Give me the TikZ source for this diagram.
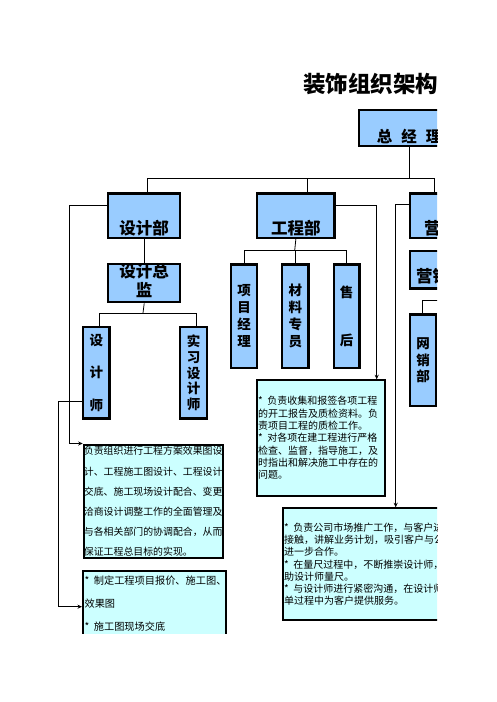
\documentclass[tikz,border=0pt]{standalone}
\usepackage{fontspec}
\setmainfont{Noto Sans CJK SC}
\usetikzlibrary{arrows.meta}
\definecolor{boxblue}{HTML}{99CCFF}
\definecolor{boxcyan}{HTML}{CCFFFF}
\newcommand{\mystar}{*\nobreak\hspace{0.45em}}
\tikzset{
  hbox/.style={draw=black, line width=2.4pt, fill=boxblue, inner sep=0pt, anchor=north west,
    font=\bfseries\fontsize{16.5}{19}\selectfont, align=center},
  vbox/.style={hbox, font=\bfseries\fontsize{13.5}{17}\selectfont},
  tbox/.style={draw=black, line width=1.8pt, fill=boxcyan, inner ysep=0pt, inner xsep=1.5pt,
    anchor=north west, align=left, font=\fontsize{10}{12.3}\selectfont},
  conn/.style={draw=black, line width=0.8pt},
  arr/.style={conn, -{Stealth[length=4.5pt,width=4pt]}},
}
\begin{document}
\begin{tikzpicture}[x=1pt,y=-1pt]
\useasboundingbox (0,0) rectangle (496,702);
\begin{scope}
\clip (0,0) rectangle (437,633);
\node[font=\bfseries\fontsize{22.5}{24}\selectfont, inner sep=0pt] (title) at (370.5,83.5) {装饰组织架构};

% top level
\node[hbox, minimum width=100, minimum height=36, text height=27.8pt, text depth=0pt,
  font=\bfseries\fontsize{15.5}{18}\selectfont] (zjl) at (358,109) {总\hspace{9pt}经\hspace{9pt}理};

% departments
\node[hbox, minimum width=72, minimum height=44.4, text height=37.6pt, text depth=0pt] (sjb) at (107,192.3) {设计部};
\node[hbox, minimum width=77.3, minimum height=44.4, text height=37.6pt, text depth=0pt] (gcb) at (256,192.3) {工程部};
\node[hbox, minimum width=77.5, minimum height=44.4, text height=37.6pt, text depth=0pt] (yxb) at (409,192.3) {营销部};
\node[hbox, minimum width=78, minimum height=37.3, text height=26.2pt, text depth=0pt] (yxjl) at (409,250) {营销经理};
\node[hbox, minimum width=72, minimum height=38, text height=30pt, text depth=3.4pt] (sjzj) at (107,263) {设计总\\监};

% vertical boxes
\node[vbox, minimum width=26, minimum height=103.4] (xmjl) at (230,263.3) {项\\目\\经\\理};
\node[vbox, minimum width=26.3, minimum height=103.4] (cl) at (281,263.3) {材\\料\\专\\员};
\node[vbox, minimum width=25.6, minimum height=103.4] (sh) at (332.7,263.3) {售\\[31pt]后};
\node[vbox, minimum width=26.3, minimum height=91.3] (sjs) at (82,326) {设\\[15.3pt]计\\[15.3pt]师};
\node[vbox, minimum width=26.7, minimum height=91.3, font=\bfseries\fontsize{13.5}{15.7}\selectfont] (sxsjs) at (179,326) {实\\习\\设\\计\\师};
\node[vbox, minimum width=26, minimum height=91.7, font=\bfseries\fontsize{13.5}{16.5}\selectfont] (wxb) at (409,313.3) {网\\销\\部};

% text boxes
\node[tbox, minimum width=139.6, minimum height=113.3, text width=139, inner xsep=0.3pt,
  font=\fontsize{9.9}{20.2}\selectfont] (d1) at (82.7,444)
  {负责组织进行工程方案效果图设\\计、工程施工图设计、工程设计\\交底、施工现场设计配合、变更\\洽商设计调整工作的全面管理及\\与各相关部门的协调配合，从而\\保证工程总目标的实现。};
\node[tbox, minimum width=143.3, minimum height=65.4, text width=140,
  font=\fontsize{10.2}{23.3}\selectfont] (d2) at (82,570)
  {\mystar 制定工程项目报价、施工图、\\效果图\\\mystar 施工图现场交底};
\node[tbox, minimum width=128.3, minimum height=115.7, text width=125.3] (gct) at (255.7,379.3)
  {\mystar 负责收集和报签各项工程\\的开工报告及质检资料。负\\责项目工程的质检工作。\\\mystar 对各项在建工程进行严格\\检查、监督，指导施工，及\\时指出和解决施工中存在的\\问题。};
\node[tbox, minimum width=172, minimum height=112, text width=169] (yxt) at (281.7,507.3)
  {\mystar 负责公司市场推广工作，与客户进行\\接触，讲解业务计划，吸引客户与公司\\进一步合作。\\\mystar 在量尺过程中，不断推崇设计师，协\\助设计师量尺。\\\mystar 与设计师进行紧密沟通，在设计师签\\单过程中为客户提供服务。};

% connectors
\coordinate (bL) at (147,178.5);
\coordinate (bR) at (434,178.5);
\coordinate (gT) at (307,178.5);
\draw[conn] (zjl.south) -- (zjl.south |- bL);
\draw[conn] (sjb.north -| bL) -- (bL) -- (bR) -- (yxb.north -| bR);
\draw[conn] (gT) -- (gcb.north -| gT);

\draw[conn] (sjb.south) -- (sjzj.north);
\coordinate (s1) at (143,313);
\coordinate (s1L) at (99.3,313);
\coordinate (s1R) at (196.7,313);
\draw[conn] (sjzj.south) -- (s1);
\draw[conn] (sjs.north -| s1L) -- (s1L) -- (s1R) -- (sxsjs.north -| s1R);

\coordinate (g1) at (294.7,250.7);
\draw[conn] (gcb.south) -- (g1);
\draw[conn] (xmjl.north) |- (g1) -| (sh.north);
\draw[conn] (cl.north) -- (cl.north |- g1);

\coordinate (gA) at (376.7,205);
\draw[arr] (gcb.east |- gA) -- (gA) -- (gct.north -| gA);
\coordinate (yA) at (395.7,204.3);
\draw[arr] (yxb.west |- yA) -- (yA) -- (yxt.north -| yA);
\coordinate (sA) at (69.5,205);
\coordinate (sB) at (69.5,443.5);
\draw[arr] (sjb.west |- sA) -- (sA) -- (sB) -- (d1.west |- sB);
\coordinate (tA) at (58.3,401.7);
\coordinate (tB) at (58.3,606.7);
\draw[arr] (sjs.west |- tA) -- (tA) -- (tB) -- (d2.west |- tB);
\coordinate (wA) at (422.3,300);
\coordinate (wB) at (440,300);
\draw[conn] (wxb.north -| wA) -- (wA) -- (wB);
\end{scope}
\end{tikzpicture}
\end{document}
